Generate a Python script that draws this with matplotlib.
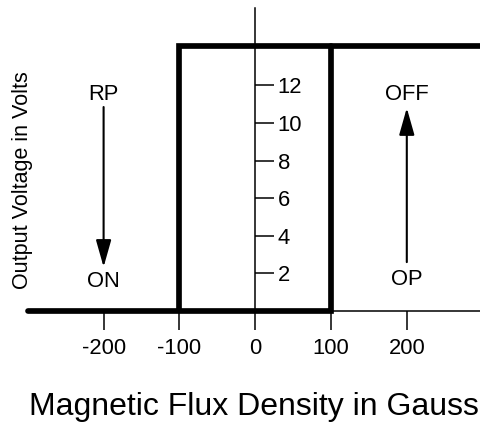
import matplotlib
matplotlib.use("Agg")
import matplotlib.pyplot as plt

plt.rcParams['font.family'] = ['Liberation Sans', 'DejaVu Sans']

# Data
x_ticks = [-200, -100, 0, 100, 200]
x_tick_labels = ['-200', '-100', '0', '100', '200']
y_ticks = [2, 4, 6, 8, 10, 12]
y_tick_labels = ['2', '4', '6', '8', '10', '12']

# hysteresis loop branches (gauss, volts)
turn_on_x = [-300, 100, 100]      # low output until OP, then switches
turn_on_y = [0, 0, 14.1]
turn_off_x = [300, -100, -100]    # high output until RP, then switches
turn_off_y = [14.1, 14.1, 0]

labels = ['RP', 'ON', 'OFF', 'OP']
label_x = [-200, -200, 200, 200]
label_y = [11.5, 1.55, 11.5, 1.65]

arrow_rp = {'x': -200, 'from': 10.85, 'to': 2.34}
arrow_op = {'x': 200, 'from': 2.6, 'to': 10.8}

W, H = 480, 425
fig = plt.figure(figsize=(W / 100, H / 100), dpi=100)
px_per_g = 0.758
left_px, bottom_px, top_px = 27.8, 311, 8
ax = fig.add_axes([left_px / W, (H - bottom_px) / H, 600 * px_per_g / W, (bottom_px - top_px) / H])
ax.set_xlim(-300, 300)
ax.set_ylim(0, (bottom_px - top_px) / 18.8)

for s in ['left', 'top']:
    ax.spines[s].set_visible(False)
ax.spines['right'].set_position(('data', 0))
ax.spines['bottom'].set_position(('data', 0))
ax.spines['right'].set_linewidth(1.1)
ax.spines['bottom'].set_linewidth(1.1)
ax.spines['bottom'].set_zorder(1)
ax.yaxis.tick_right()

ax.set_xticks(x_ticks)
ax.set_xticklabels(x_tick_labels)
ax.set_yticks(y_ticks)
ax.set_yticklabels(y_tick_labels)
ax.tick_params(axis='x', direction='out', length=13.7, width=1.1, pad=6, labelsize=15.8)
ax.tick_params(axis='y', direction='out', length=13.7, width=1.1, pad=2.5, labelsize=15.8)

ax.plot(turn_on_x, turn_on_y, color='black', lw=4.1, solid_capstyle='round',
        solid_joinstyle='miter', clip_on=False, zorder=3)
ax.plot(turn_off_x, turn_off_y, color='black', lw=4.1, solid_capstyle='butt',
        solid_joinstyle='miter', clip_on=False, zorder=3)

for t, x, y in zip(labels, label_x, label_y):
    ax.text(x, y, t, ha='center', va='center', fontsize=15.8)

astyle = dict(arrowstyle='-|>,head_length=0.83,head_width=0.235', mutation_scale=20,
              lw=1.5, color='black', shrinkA=0, shrinkB=0)
for a in (arrow_rp, arrow_op):
    ax.annotate('', xy=(a['x'], a['to']), xytext=(a['x'], a['from']), arrowprops=astyle)

fig.text(254 / W, 1 - 415 / H, 'Magnetic Flux Density in Gauss', ha='center', va='baseline', fontsize=23)
fig.text(23 / W, 1 - 180 / H, 'Output Voltage in Volts', rotation=90, ha='center', va='center', fontsize=15.5)

fig.savefig('out.png', dpi=100)
